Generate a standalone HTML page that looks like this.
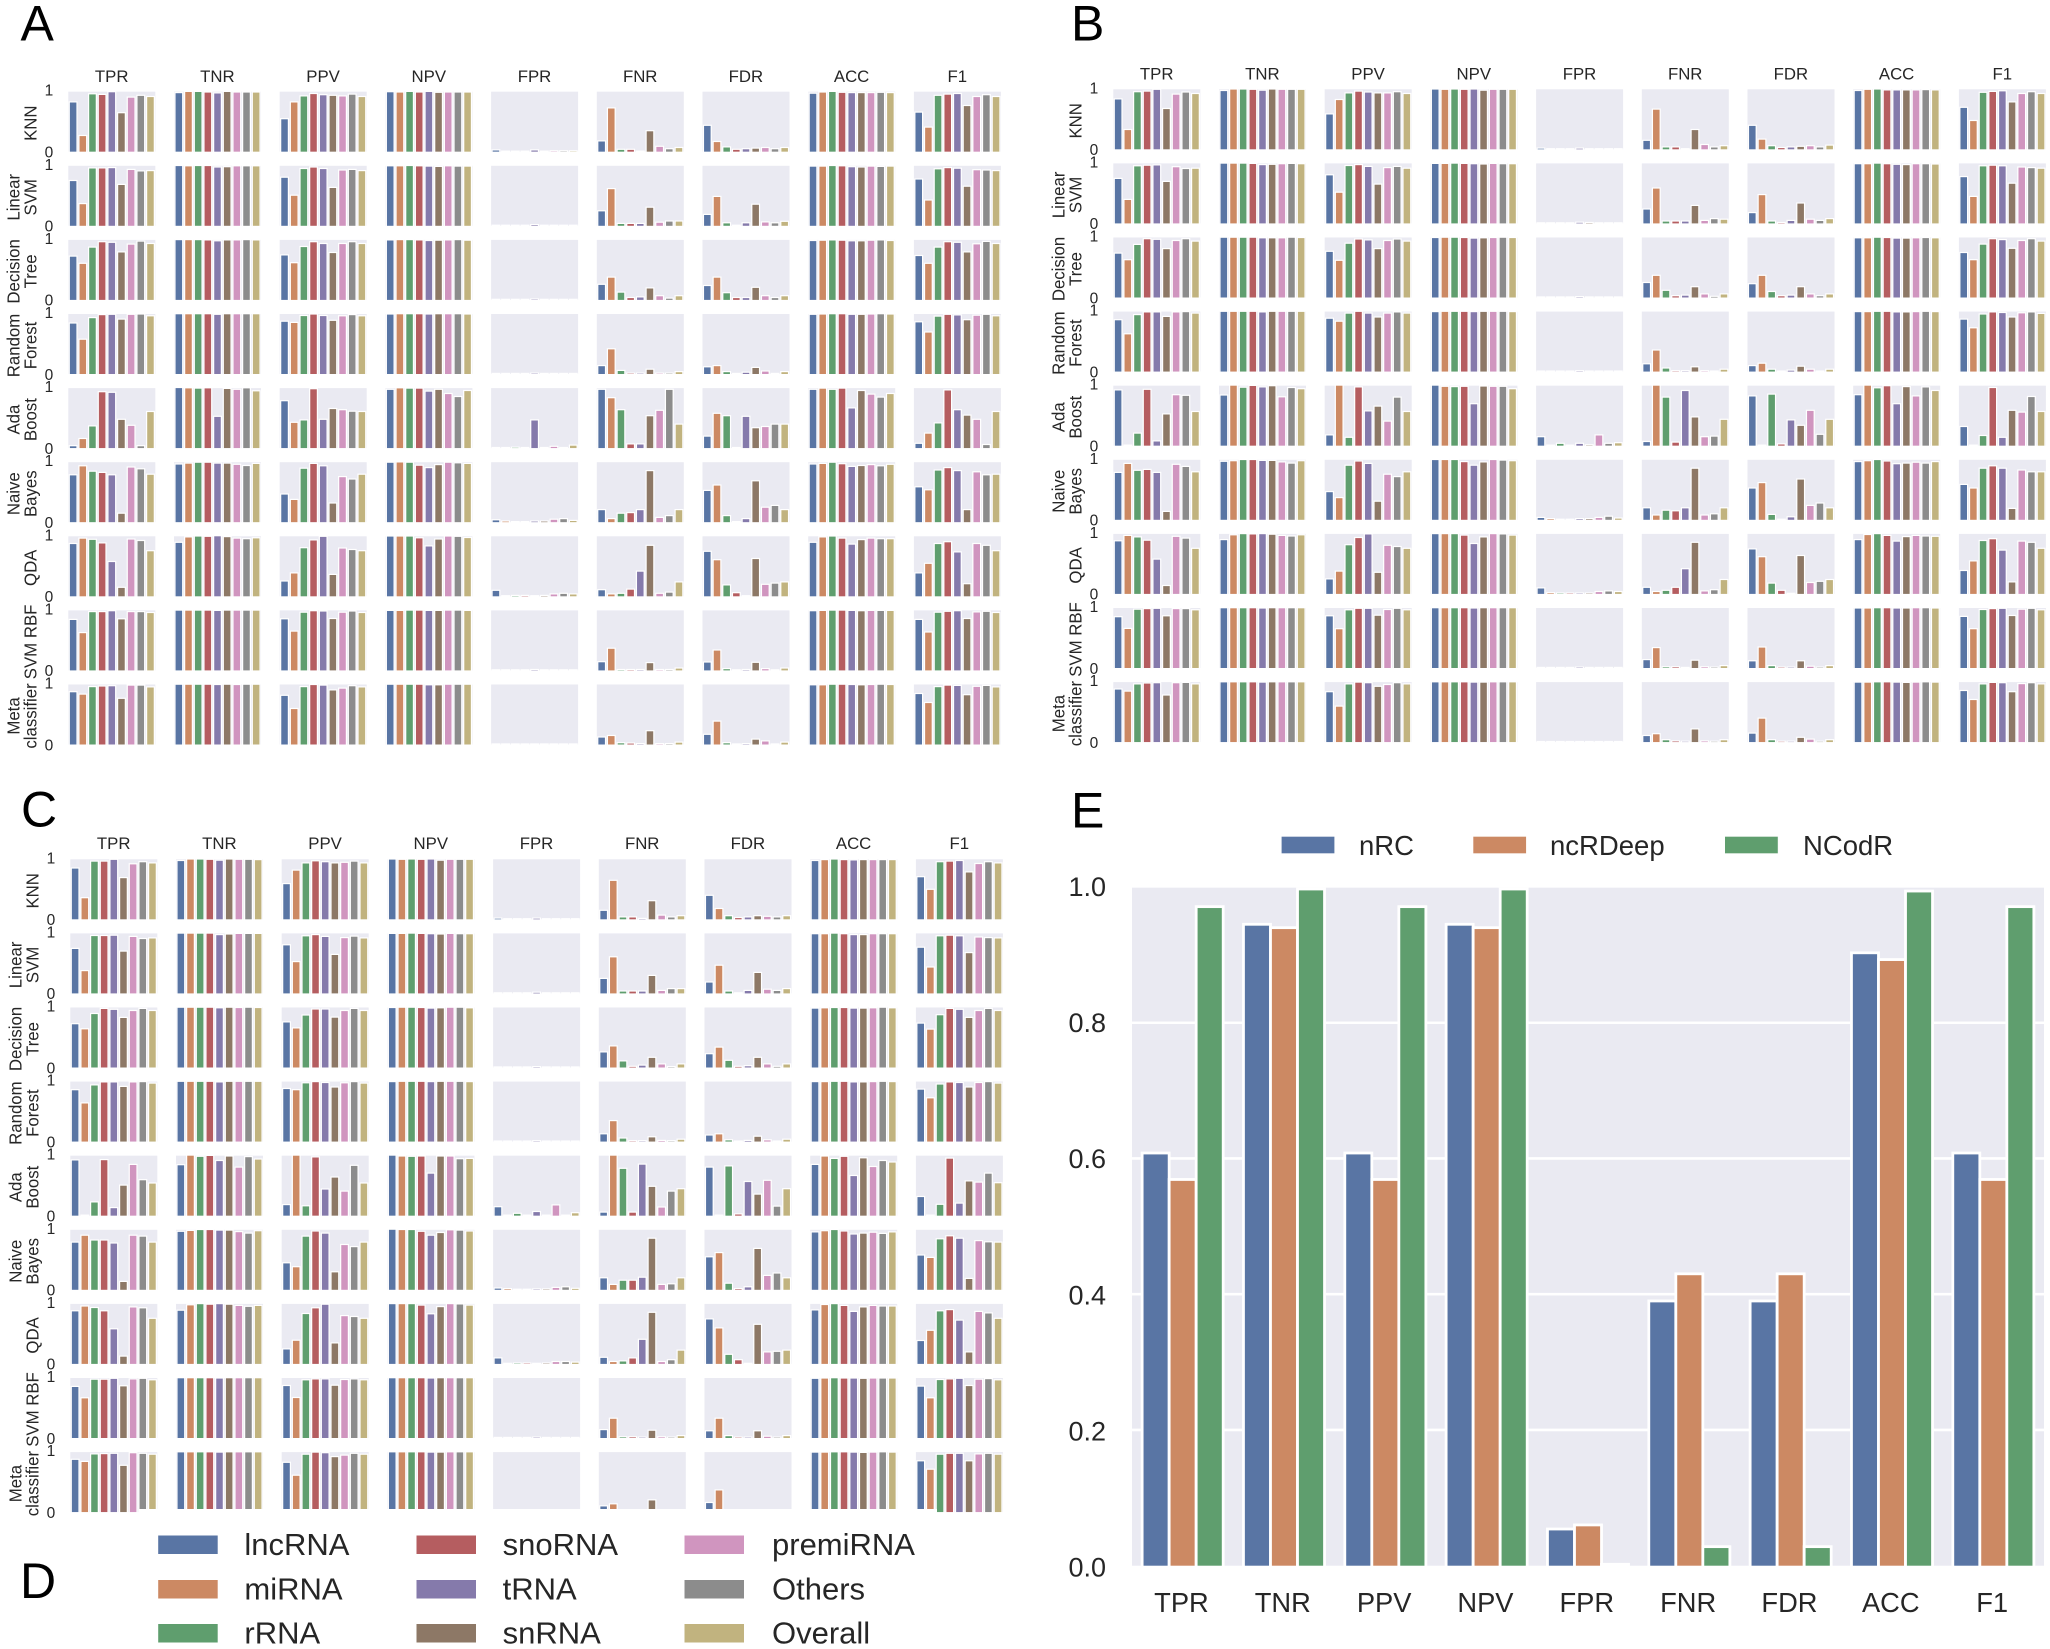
<!DOCTYPE html>
<html lang="en">
<head>
<meta charset="utf-8">
<title>ncRNA classifier performance</title>
<style>
html,body{margin:0;padding:0;background:#fff;}
svg{display:block;font-family:"Liberation Sans",Arial,sans-serif;}
text{fill:#262626;}
</style>
</head>
<body>
<svg id="figure" xmlns="http://www.w3.org/2000/svg" width="2050" height="1649" viewBox="0 0 2050 1649"></svg>
<script>
const metricNames = ["TPR","TNR","PPV","NPV","FPR","FNR","FDR","ACC","F1"];
const classNames = ["lncRNA","miRNA","rRNA","snoRNA","tRNA","snRNA","premiRNA","Others","Overall"];
const classifierLabels = [["KNN"],["Linear","SVM"],["Decision","Tree"],["Random","Forest"],["Ada","Boost"],["Naive","Bayes"],["QDA"],["SVM RBF"],["Meta","classifier"]];
const smallTickLabels = ["1","0"];

/* Panel A: each row is one metric (TPR..F1), each value one RNA class */
const aKNN = [
[.82,.26,.955,.945,.99,.64,.90,.93,.91],[.975,.995,.995,.985,.97,.995,.985,.985,.985],[.54,.82,.92,.96,.94,.93,.92,.95,.91],
[.99,.985,.995,.985,.995,.98,.985,.985,.985],[.02,0,0,0,.02,0,.005,.005,.005],[.17,.72,.03,.03,0,.34,.08,.04,.06],
[.43,.16,.07,.03,.04,.05,.06,.04,.06],[.965,.985,.995,.98,.975,.975,.975,.98,.975],[.65,.40,.93,.95,.96,.76,.91,.94,.91]];
const aLinearSVM = [
[.745,.36,.955,.955,.96,.68,.93,.905,.91],[.995,.99,.995,.995,.97,.975,.99,.99,.99],[.80,.50,.945,.97,.945,.63,.92,.93,.91],
[.99,.99,.995,.99,.985,.98,.99,.985,.985],[0,0,0,0,.01,0,0,0,0],[.24,.61,.03,.03,.03,.30,.05,.07,.07],
[.18,.48,.04,0,.04,.35,.055,.04,.065],[.985,.985,.995,.99,.975,.97,.985,.98,.985],[.77,.42,.94,.96,.95,.65,.925,.92,.91]];
const aDecisionTree = [
[.72,.60,.87,.96,.95,.79,.92,.97,.93],[.995,.995,.995,.99,.975,.99,.99,.995,.99],[.74,.61,.88,.96,.93,.78,.93,.96,.93],
[.99,.995,.995,.99,.98,.985,.99,.995,.985],[0,0,0,0,.005,0,0,0,0],[.25,.37,.12,.03,.04,.19,.06,.02,.06],
[.23,.37,.11,.03,.03,.20,.06,.03,.06],[.98,.985,.99,.985,.975,.975,.985,.99,.98],[.73,.60,.87,.96,.95,.79,.925,.965,.93]];
const aRandomForest = [
[.84,.57,.93,.98,.985,.905,.985,.99,.96],[.995,.995,.995,.995,.985,.995,.995,.995,.995],[.87,.85,.965,.99,.965,.885,.96,.98,.96],
[.99,.995,.995,.995,.99,.995,.995,.995,.99],[0,0,0,0,.005,0,0,0,0],[.13,.41,.05,.005,.005,.07,.005,.005,.03],
[.11,.13,.03,0,.02,.10,.04,0,.03],[.985,.99,.995,.995,.985,.985,.99,.995,.99],[.86,.69,.955,.985,.975,.895,.97,.985,.96]];
const aAdaBoost = [
[.03,.15,.36,.93,.92,.47,.37,.03,.60],[1,.995,.99,.995,.52,.985,.97,.995,.945],[.78,.42,.46,.98,.47,.65,.63,.605,.60],
[.97,.995,.99,.99,.94,.97,.90,.85,.95],[0,0,.005,0,.46,0,.02,0,.04],[.97,.83,.63,.06,.06,.53,.62,.97,.39],
[.19,.57,.53,0,.52,.33,.35,.39,.39],[.97,.99,.97,.99,.66,.95,.89,.84,.90],[.07,.24,.41,.96,.63,.54,.47,.05,.60]];
const aNaiveBayes = [
[.78,.93,.84,.82,.78,.14,.91,.88,.79],[.96,.975,.99,.99,.975,.975,.955,.935,.97],[.46,.37,.89,.97,.93,.31,.75,.71,.79],
[.99,.995,.99,.94,.90,.95,.99,.98,.97],[.03,.01,0,0,.01,.01,.04,.05,.02],[.20,.05,.14,.15,.20,.85,.07,.10,.20],
[.52,.61,.10,0,.05,.68,.24,.27,.20],[.96,.97,.99,.965,.92,.935,.95,.93,.955],[.58,.53,.86,.90,.85,.20,.83,.78,.79]];
const aQDA = [
[.87,.96,.94,.88,.57,.14,.945,.92,.75],[.89,.98,.995,.99,1,.985,.96,.95,.965],[.245,.38,.80,.93,.99,.355,.795,.77,.75],
[.995,.995,.995,.965,.83,.945,.995,.99,.97],[.09,0,.005,.005,0,.005,.03,.04,.03],[.10,.03,.04,.11,.41,.84,.04,.06,.23],
[.74,.60,.18,.05,0,.62,.19,.21,.23],[.89,.98,.995,.96,.86,.935,.96,.95,.95],[.38,.54,.87,.90,.73,.20,.87,.84,.75]];
const aSVMRBF = [
[.84,.62,.97,.97,.985,.85,.97,.97,.955],[.995,.995,.995,.995,.99,.995,.995,.995,.995],[.85,.645,.96,.985,.98,.855,.96,.98,.955],
[.99,.99,.995,.995,.99,.99,.995,.995,.99],[0,0,0,0,.005,0,0,0,0],[.135,.36,.005,.005,.005,.12,.005,.005,.03],
[.13,.33,.02,0,.005,.125,.02,0,.03],[.985,.99,.995,.995,.99,.985,.99,.99,.99],[.84,.63,.96,.975,.985,.855,.965,.975,.955]];
const aMeta = [
[.87,.83,.955,.965,.97,.76,.98,.98,.95],[.995,.995,.995,.995,.99,.995,.99,.995,.995],[.81,.59,.955,.99,.98,.90,.93,.97,.95],
[.995,.995,.995,.995,.985,.985,.995,.995,.995],[0,0,0,0,0,0,0,0,0],[.115,.14,.02,.015,.005,.22,.005,.005,.03],
[.16,.38,.02,0,.005,.08,.05,0,.03],[.985,.985,.995,.995,.99,.985,.99,.995,.99],[.84,.69,.955,.98,.975,.82,.96,.975,.95]];

/* Panel B */
const bKNN = [
[.83,.32,.95,.96,.99,.67,.91,.945,.92],[.97,.995,.995,.99,.975,.995,.99,.99,.99],[.58,.82,.93,.96,.945,.93,.93,.95,.92],
[.995,.99,.995,.99,.995,.975,.99,.99,.99],[.01,0,0,0,.01,0,0,0,0],[.14,.66,.03,.03,0,.32,.07,.03,.05],
[.39,.16,.05,.02,.03,.04,.05,.03,.06],[.97,.99,.995,.98,.98,.98,.98,.985,.98],[.69,.47,.94,.955,.965,.78,.92,.95,.92]];
const bLinearSVM = [
[.74,.39,.95,.96,.965,.69,.935,.905,.91],[.995,.995,.995,.99,.97,.975,.985,.99,.985],[.80,.51,.955,.97,.94,.645,.92,.94,.91],
[.99,.99,.995,.99,.985,.98,.99,.985,.985],[0,0,0,0,.01,.005,0,0,0],[.23,.58,.03,.03,.03,.29,.04,.07,.06],
[.17,.47,.03,.005,.04,.33,.06,.04,.07],[.985,.985,.995,.985,.975,.97,.985,.985,.98],[.77,.44,.95,.96,.95,.66,.93,.92,.91]];
const bDecisionTree = [
[.73,.62,.875,.97,.96,.805,.94,.97,.93],[.995,.995,.995,.995,.985,.985,.985,.995,.99],[.76,.61,.895,.965,.95,.805,.94,.965,.93],
[.99,.995,.995,.99,.98,.985,.99,.995,.99],[0,0,0,0,.005,0,0,0,0],[.24,.36,.11,.02,.03,.17,.05,.01,.05],
[.22,.36,.09,.02,.03,.17,.05,.02,.05],[.985,.985,.995,.99,.98,.98,.985,.99,.985],[.74,.62,.88,.97,.955,.81,.94,.97,.93]];
const bRandomForest = [
[.855,.62,.94,.985,.985,.91,.985,.99,.965],[.995,.995,.995,.995,.985,.995,.995,.995,.995],[.88,.83,.965,.995,.965,.90,.965,.985,.965],
[.99,.995,.995,.995,.99,.995,.995,.995,.99],[0,0,0,0,.005,0,0,0,0],[.12,.35,.05,.005,.005,.07,.005,0,.03],
[.09,.13,.03,0,.015,.08,.03,0,.03],[.99,.99,.995,.995,.985,.985,.99,.995,.99],[.865,.72,.95,.985,.975,.90,.97,.985,.96]];
const bAdaBoost = [
[.92,0,.20,.93,.07,.52,.84,.83,.56],[.835,1,.965,.995,.97,.99,.805,.96,.94],[.17,1,.13,.97,.57,.65,.40,.80,.56],
[1,.98,.975,.98,.69,.985,.98,.98,.94],[.14,0,.03,0,.03,.005,.17,.03,.04],[.06,1,.80,.05,.91,.47,.14,.15,.43],
[.82,0,.85,.02,.42,.33,.58,.18,.43],[.84,1,.955,.99,.69,.975,.82,.97,.91],[.31,0,.16,.96,.13,.58,.55,.81,.56]];
const bNaiveBayes = [
[.78,.93,.815,.83,.78,.13,.915,.88,.79],[.965,.975,.995,.995,.98,.98,.955,.935,.975],[.46,.36,.90,.97,.93,.30,.75,.71,.79],
[.995,.995,.995,.96,.90,.955,.995,.985,.975],[.03,.01,0,0,.01,.01,.03,.05,.02],[.19,.07,.15,.14,.19,.85,.07,.09,.19],
[.52,.61,.08,0,.04,.67,.23,.27,.19],[.96,.975,.995,.97,.925,.935,.95,.935,.96],[.58,.52,.85,.89,.85,.18,.82,.79,.79]];
const bQDA = [
[.875,.965,.94,.885,.57,.13,.95,.92,.75],[.895,.975,.995,.99,.995,.985,.965,.955,.975],[.24,.37,.81,.93,.99,.35,.80,.78,.75],
[.995,.995,.995,.97,.83,.94,.995,.99,.97],[.09,.01,.005,.005,.005,.005,.03,.04,.03],[.10,.03,.05,.10,.41,.85,.04,.06,.23],
[.74,.61,.17,.05,0,.63,.18,.20,.23],[.895,.98,.995,.965,.87,.945,.965,.955,.95],[.38,.54,.88,.91,.72,.19,.87,.85,.75]];
const bSVMRBF = [
[.845,.65,.97,.98,.985,.86,.98,.98,.96],[.995,.995,.995,.995,.99,.995,.995,.995,.995],[.86,.645,.96,.985,.985,.87,.965,.985,.96],
[.995,.995,.995,.995,.99,.995,.995,.995,.995],[0,0,0,0,.005,0,0,0,0],[.13,.33,.01,.01,0,.12,.01,.005,.03],
[.11,.34,.03,.005,.005,.11,.02,.005,.03],[.99,.99,.995,.995,.99,.99,.995,.995,.99],[.85,.645,.965,.98,.985,.865,.97,.985,.96]];
const bMeta = [
[.875,.84,.96,.975,.98,.775,.98,.985,.96],[.995,.995,.995,.995,.99,.995,.995,.995,.995],[.83,.59,.96,.99,.98,.92,.95,.98,.96],
[.995,.995,.995,.995,.99,.99,.995,.995,.995],[0,0,0,0,0,0,0,0,0],[.10,.13,.03,.01,.005,.21,.01,.005,.03],
[.14,.39,.03,.005,.005,.07,.04,.005,.03],[.99,.99,.995,.995,.99,.985,.99,.995,.99],[.85,.70,.96,.985,.98,.83,.965,.98,.96]];

/* Panel C */
const cKNN = [
[.845,.35,.96,.96,.99,.685,.915,.95,.93],[.97,.995,.995,.99,.975,.995,.99,.99,.985],[.585,.81,.93,.965,.95,.93,.94,.96,.93],
[.995,.99,.995,.99,.995,.975,.99,.99,.99],[.01,0,0,0,.01,0,0,0,0],[.14,.64,.03,.03,.005,.30,.06,.03,.05],
[.39,.17,.05,.02,.03,.05,.04,.03,.05],[.97,.985,.995,.985,.98,.985,.985,.985,.985],[.70,.49,.95,.96,.97,.78,.92,.95,.93]];
const cLinearSVM = [
[.74,.37,.955,.955,.96,.695,.94,.905,.915],[.995,.995,.995,.995,.97,.98,.99,.99,.99],[.80,.52,.95,.97,.94,.64,.92,.945,.915],
[.99,.99,.995,.99,.985,.98,.99,.985,.985],[0,0,0,0,.01,0,0,0,0],[.24,.60,.03,.03,.03,.29,.04,.07,.07],
[.18,.46,.03,0,.04,.34,.06,.04,.07],[.985,.985,.995,.985,.97,.97,.985,.985,.985],[.76,.43,.95,.96,.95,.67,.93,.92,.915]];
const cDecisionTree = [
[.72,.635,.89,.975,.96,.825,.94,.975,.94],[.995,.995,.995,.995,.985,.995,.99,.995,.99],[.75,.65,.865,.965,.965,.83,.94,.975,.94],
[.99,.995,.995,.99,.98,.985,.995,.995,.985],[0,0,0,0,.005,0,0,0,0],[.25,.35,.10,.01,.03,.16,.05,.005,.05],
[.22,.33,.11,.01,.02,.16,.05,.01,.05],[.98,.985,.99,.99,.98,.98,.985,.995,.985],[.73,.63,.87,.975,.96,.825,.94,.975,.94]];
const cRandomForest = [
[.855,.635,.935,.985,.985,.91,.985,.99,.965],[.995,.995,.995,.995,.985,.995,.995,.995,.995],[.875,.855,.97,.99,.975,.90,.97,.99,.965],
[.99,.995,.995,.995,.99,.995,.995,.995,.99],[0,0,0,0,.005,0,0,0,0],[.12,.34,.05,.005,.005,.07,.01,.005,.03],
[.10,.12,.02,0,.01,.08,.02,0,.03],[.99,.99,.995,.995,.985,.985,.99,.995,.99],[.865,.72,.95,.985,.975,.90,.975,.99,.965]];
const cAdaBoost = [
[.92,0,.22,.925,.125,.50,.845,.59,.535],[.84,1,.98,.995,.91,.985,.80,.975,.935],[.175,1,.155,.97,.435,.635,.40,.83,.535],
[1,.985,.98,.985,.70,.985,.985,.94,.945],[.14,0,.03,0,.06,0,.17,0,.04],[.05,1,.78,.05,.85,.48,.135,.40,.44],
[.80,0,.82,.02,.56,.35,.58,.15,.44],[.845,.985,.945,.98,.66,.955,.81,.91,.885],[.31,0,.18,.95,.20,.57,.55,.70,.54]];
const cNaiveBayes = [
[.785,.90,.82,.82,.77,.13,.90,.885,.785],[.965,.98,.995,.995,.985,.985,.96,.935,.975],[.44,.375,.885,.97,.935,.29,.745,.71,.785],
[1,.995,.995,.965,.90,.945,.99,.985,.97],[.02,.01,0,0,.005,.005,.03,.04,.015],[.19,.08,.15,.15,.20,.85,.08,.09,.19],
[.54,.61,.10,.01,.04,.68,.23,.27,.19],[.955,.975,.995,.97,.92,.935,.95,.93,.955],[.57,.53,.84,.89,.85,.18,.81,.79,.785]];
const cQDA = [
[.875,.955,.93,.875,.575,.12,.94,.925,.75],[.885,.975,.995,.985,.995,.985,.965,.95,.965],[.24,.385,.83,.925,.985,.34,.795,.78,.75],
[.995,.995,.995,.97,.825,.945,.995,.99,.97],[.09,0,.005,.005,0,.005,.03,.03,.02],[.10,.03,.04,.09,.40,.85,.03,.06,.22],
[.74,.59,.15,.06,0,.65,.19,.20,.22],[.89,.98,.995,.965,.865,.94,.965,.955,.955],[.38,.55,.875,.895,.72,.19,.865,.84,.75]];
const cSVMRBF = [
[.85,.66,.97,.97,.985,.86,.975,.985,.96],[.995,.995,.995,.995,.99,.995,.995,.995,.995],[.865,.665,.96,.975,.975,.87,.965,.975,.96],
[.995,.995,.995,.995,.99,.995,.995,.995,.995],[0,0,0,0,.005,0,0,0,0],[.13,.32,.01,.01,.005,.12,.01,.005,.03],
[.11,.32,.03,.005,.005,.11,.02,.005,.03],[.985,.99,.995,.99,.99,.985,.99,.99,.99],[.855,.66,.965,.975,.985,.865,.97,.98,.96]];
const cMeta = [
[.87,.835,.96,.965,.97,.77,.98,.97,.955],[.995,.995,.995,.995,.99,.995,.995,.995,.995],[.82,.605,.955,.99,.98,.915,.94,.97,.955],
[.995,.995,.995,.995,.99,.99,.995,.995,.995],[0,0,0,0,0,0,0,0,0],[.094,.128,0,0,0,.194,0,0,0],
[.15,.36,0,0,0,0,.01,0,0],[.99,.99,.995,.995,.99,.985,.99,.995,.99],[.845,.705,.955,.97,.97,.845,.96,.97,.955]];

const panelAValues = [aKNN,aLinearSVM,aDecisionTree,aRandomForest,aAdaBoost,aNaiveBayes,aQDA,aSVMRBF,aMeta];
const panelBValues = [bKNN,bLinearSVM,bDecisionTree,bRandomForest,bAdaBoost,bNaiveBayes,bQDA,bSVMRBF,bMeta];
const panelCValues = [cKNN,cLinearSVM,cDecisionTree,cRandomForest,cAdaBoost,cNaiveBayes,cQDA,cSVMRBF,cMeta];

/* Panel E */
const toolNames = ["nRC","ncRDeep","NCodR"];
const nrcValues = [.606,.943,.606,.943,.052,.388,.388,.901,.606];
const ncrdeepValues = [.567,.938,.567,.938,.058,.428,.428,.891,.567];
const ncodrValues = [.969,.995,.969,.995,0,.026,.026,.992,.969];
const compareTicks = [0,.2,.4,.6,.8,1];

const classColors = ["#5975a4","#cc8963","#5f9e6e","#b55d60","#857aab","#8d7866","#d095bf","#8c8c8c","#c1b37f"];
const toolColors = ["#5975a4","#cc8963","#5f9e6e"];

const svg = document.getElementById('figure');
const NS = 'http://www.w3.org/2000/svg';

function make(tag, parent, attrs, text) {
  const node = document.createElementNS(NS, tag);
  for (const k in attrs) node.setAttribute(k, attrs[k]);
  if (text !== undefined) node.textContent = text;
  parent.appendChild(node);
  return node;
}
function slug(s) { return s.toLowerCase().replace(/[^a-z0-9]+/g, '-'); }

function drawPanel(letter, values, left, top, titleY) {
  const colStep = 105.7, colW = 87, rowStep = 74.1, rowH = 60;
  const barStep = colW / classNames.length;
  const edge = 1.2;
  const g = make('g', svg, {});
  
  

  metricNames.forEach(function (m, c) {
    const t = make('text', g, {x: left + c * colStep + 43.4, y: titleY, 'font-size': 16.8, 'text-anchor': 'middle', 'dominant-baseline': 'central'}, m);
    
    
  });

  classifierLabels.forEach(function (lines, r) {
    const py = top + r * rowStep;
    const yScale = function (v) { return py + rowH - v * rowH; };

    const label = make('text', g, {transform: 'translate(' + (left - 31.6 - (lines.length - 1) * 17.3) + ',' + (py + rowH / 2 + 1.5) + ') rotate(-90) scale(.96,1)', 'font-size': 17.5, 'text-anchor': 'middle'});
    
    
    lines.forEach(function (line, i) {
      make('tspan', label, {x: 0, y: i * 17.3}, line);
    });

    smallTickLabels.forEach(function (tick, i) {
      const tv = +tick;
      const tl = make('text', g, {x: left - 15, y: yScale(tv) + (i ? 1.3 : -0.5), 'font-size': 15.5, 'text-anchor': 'end', 'dominant-baseline': 'central'}, tick);
      
      
    });

    metricNames.forEach(function (m, c) {
      const px = left + c * colStep;
      const bg = make('rect', g, {x: px, y: py, width: colW, height: rowH, fill: '#eaeaf2'});
      
      
      values[r][c].forEach(function (v, k) {
        const y = yScale(v) - edge / 2;
        const bar = make('rect', g, {x: px + (k + 0.1) * barStep, y: y, width: barStep * 0.8, height: py + rowH + edge / 2 - y, fill: classColors[k], stroke: '#fff', 'stroke-width': edge});
        
        
      });
    });
    /* hide the white edge that falls below the axis */
    const base = make('rect', g, {x: left - 2, y: py + rowH + 0.2, width: 9 * colStep, height: 1.2, fill: '#fff'});
    
    
  });
}

drawPanel('a', panelAValues, 68.3, 91.7, 76.3);
drawPanel('b', panelBValues, 1113.3, 89.3, 74);
drawPanel('c', panelCValues, 70.3, 859.3, 843.7);

/* The source image crops the bottom of the last row of panel C */
const cropMask = make('rect', svg, {x: 139, y: 1509, width: 798, height: 6, fill: '#fff'});



/* Legend D */
const legendD = make('g', svg, {});


const legendColSwatch = [157.7, 416, 684];
const legendColText = [244.4, 502.6, 772];
const legendRowY = [1544.5, 1589, 1633];
classNames.forEach(function (name, i) {
  const col = Math.floor(i / 3), row = i % 3;
  const sw = make('rect', legendD, {x: legendColSwatch[col], y: legendRowY[row] - 9.5, width: 60.5, height: 19.5, fill: classColors[i], stroke: '#fff', 'stroke-width': 1});
  
  
  const tx = make('text', legendD, {x: legendColText[col], y: legendRowY[row], 'font-size': 31, 'dominant-baseline': 'central'}, name);
  
  
});

/* Panel E */
const eLeft = 1132, eRight = 2044, eTop = 887, eBottom = 1565.7;
const eEdge = 2.8;
const eY = function (v) { return eBottom - v * (eBottom - eTop); };
const eLabelY = function (v) { return 1567.5 - v * 680.5; };
const eGroup = (eRight - eLeft) / metricNames.length;
const eX = function (i) { return eLeft + (i + 0.5) * eGroup; };
const panelE = make('g', svg, {});


const ebg = make('rect', panelE, {x: eLeft, y: eTop + 0.7, width: eRight - eLeft, height: eBottom - eTop - 0.7, fill: '#eaeaf2'});


compareTicks.forEach(function (t) {
  if (t > 0 && t < 1) {
    const gl = make('line', panelE, {x1: eLeft, x2: eRight, y1: eY(t), y2: eY(t), stroke: '#fff', 'stroke-width': 2.6});
    
    
  }
  const tl = make('text', panelE, {x: 1106, y: eLabelY(t), 'font-size': 27, 'text-anchor': 'end', 'dominant-baseline': 'central'}, t.toFixed(1));
  
  
});
const toolSeries = [nrcValues, ncrdeepValues, ncodrValues];
const eBarW = eGroup * 0.8 / toolSeries.length;
toolSeries.forEach(function (series, s) {
  series.forEach(function (v, i) {
    const y = eY(v) - eEdge / 2;
    const bar = make('rect', panelE, {x: eX(i) + (s - 1.5) * eBarW, y: y, width: eBarW, height: eBottom + eEdge / 2 - y, fill: toolColors[s], stroke: '#fff', 'stroke-width': eEdge});
    
    
  });
});
metricNames.forEach(function (m, i) {
  const tl = make('text', panelE, {x: eX(i) - 1.2, y: 1602.3, 'font-size': 27.3, 'text-anchor': 'middle', 'dominant-baseline': 'central'}, m);
  
  
});
const eLegendSwatchX = [1281.3, 1473, 1724.7];
const eLegendTextX = [1359, 1550, 1803];
toolNames.forEach(function (name, i) {
  const sw = make('rect', panelE, {x: eLegendSwatchX[i], y: 836.4, width: 53.4, height: 17.2, fill: toolColors[i], stroke: '#fff', 'stroke-width': 0.6});
  
  
  const tx = make('text', panelE, {x: eLegendTextX[i], y: 845.5, 'font-size': 27.5, 'dominant-baseline': 'central'}, name);
  
  
});

/* Panel letters */
const panelLetters = ["A","B","C","D","E"];
const letterX = [20.5, 1071, 21, 20, 1071];
const letterY = [40.7, 40.7, 826.5, 1598, 827.3];
panelLetters.forEach(function (l, i) {
  const t = make('text', svg, {x: letterX[i], y: letterY[i], 'font-size': 50, style: 'fill:#000'}, l);
  
  
});
</script>
</body>
</html>
